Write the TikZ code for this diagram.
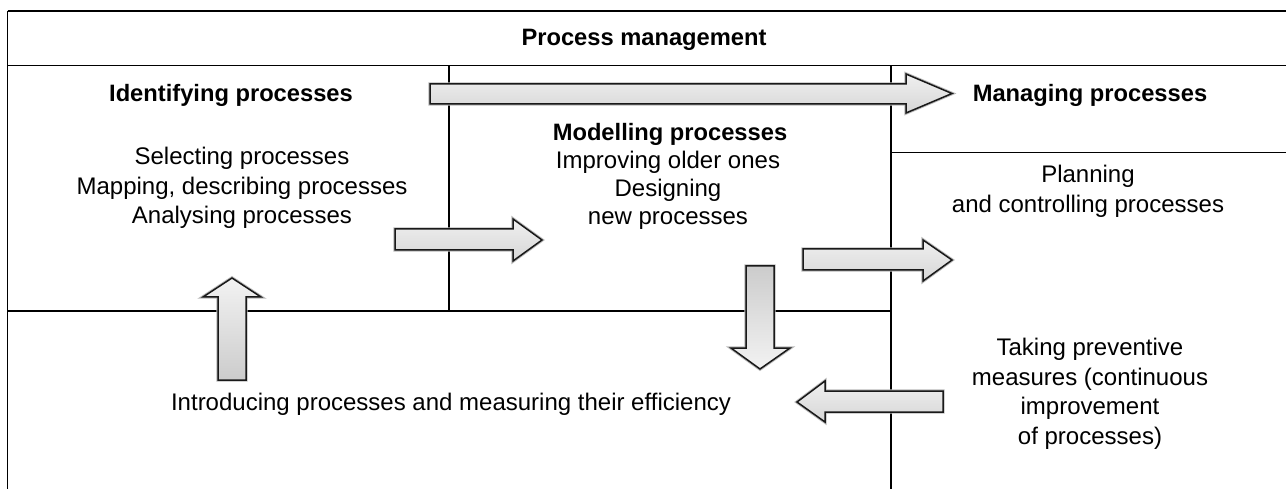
\documentclass[tikz,border=0pt]{standalone}
\usepackage{fontspec}
\setmainfont{Liberation Sans}
\begin{document}
\begin{tikzpicture}[x=1pt,y=-1pt,
  frame/.style={line width=1.5pt, black},
  txt/.style={inner sep=0pt, align=center, font=\fontsize{24}{29.5}\selectfont},
  btxt/.style={inner sep=0pt, align=center, font=\fontsize{23.7}{29.5}\selectfont\bfseries},
  harrow/.style={draw=black!90, line width=1.5pt, line join=miter, top color=gray!12, bottom color=gray!32},
  uparrow/.style={draw=black!90, line width=1.5pt, line join=miter, top color=gray!10, bottom color=gray!40},
  dnarrow/.style={draw=black!90, line width=1.5pt, line join=miter, top color=gray!40, bottom color=gray!10},
  halo/.style={draw=gray!55, line width=3.4pt, line join=miter}
]
\newcommand\blockarrow[2]{\path[halo] #2; \path[#1] #2;}
\useasboundingbox (0,0) rectangle (1286,489);
\fill[white] (0,0) rectangle (1286,489);
% frame lines
\draw[frame] (7.5,11) -- (1286,11);
\draw[frame] (7.5,65.5) -- (1286,65.5);
\draw[frame] (7.5,11) -- (7.5,489);
\draw[frame] (449,65.5) -- (449,311);
\draw[frame] (7.5,311) -- (891,311);
\draw[frame] (891,65.5) -- (891,489);
\draw[frame] (891,152.5) -- (1286,152.5);
% block arrows
\blockarrow{harrow}{(430,84) -- (906,84) -- (906,74) -- (952,93.5) -- (906,113) -- (906,104) -- (430,104) -- cycle}
\blockarrow{harrow}{(395,229) -- (513,229) -- (513,219) -- (542,240) -- (513,261) -- (513,250) -- (395,250) -- cycle}
\blockarrow{harrow}{(803,249) -- (923,249) -- (923,240) -- (952,260) -- (923,281) -- (923,270) -- (803,270) -- cycle}
\blockarrow{dnarrow}{(746,266) -- (774,266) -- (774,348) -- (790,348) -- (760,369) -- (731,348) -- (746,348) -- cycle}
\blockarrow{harrow}{(943,391) -- (825,391) -- (825,381) -- (797,402) -- (825,422) -- (825,412) -- (943,412) -- cycle}
\blockarrow{uparrow}{(218,380) -- (246,380) -- (246,297) -- (261,297) -- (232,278) -- (203,297) -- (218,297) -- cycle}
% texts
\node[btxt] (pm) at (644,40) {Process management};
\node[btxt] (ip) at (231,95) {Identifying processes};
\node[txt] (ipl) at (242,188) {Selecting processes\\Mapping, describing processes\\Analysing processes};
\node[btxt] (mp) at (670,134) {Modelling processes};
\node[txt, font=\fontsize{24}{28}\selectfont] (mpl) at (668,190) {Improving older ones\\Designing\\new processes};
\node[btxt] (mg) at (1090,95) {Managing processes};
\node[txt] (pl) at (1088,191.5) {Planning\\and controlling processes};
\node[txt] (tp) at (1090,394) {Taking preventive\\measures (continuous\\improvement\\of processes)};
\node[txt] (intro) at (451,404) {Introducing processes and measuring their efficiency};
\end{tikzpicture}
\end{document}
